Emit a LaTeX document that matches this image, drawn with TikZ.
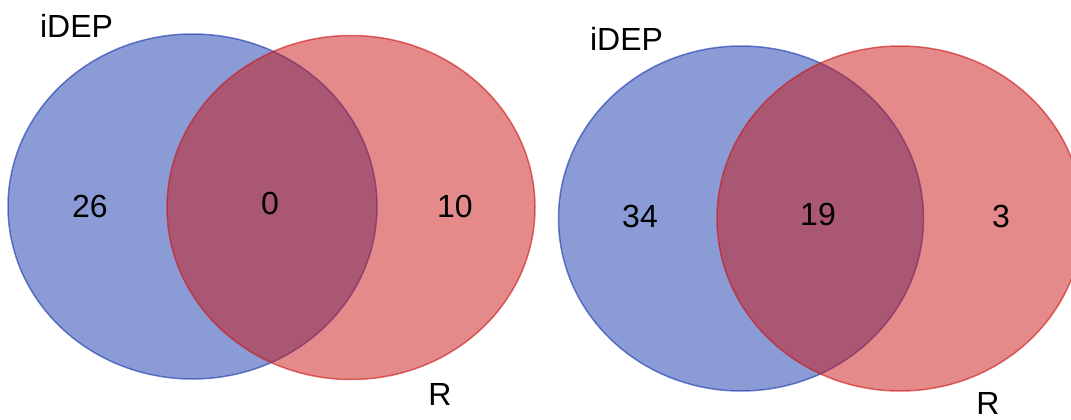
\documentclass[tikz,border=0pt]{standalone}
\usepackage{fontspec}
\setmainfont{Liberation Sans}
\definecolor{setblue}{RGB}{21,55,173}
\definecolor{setred}{RGB}{203,21,21}
\begin{document}
\begin{tikzpicture}[x=1pt,y=-1pt,
  setarea/.style={line width=1.5pt, fill opacity=0.5, draw opacity=0.6},
  bluearea/.style={setarea, draw=setblue, fill=setblue},
  redarea/.style={setarea, draw=setred, fill=setred},
  lbl/.style={inner sep=0pt, font=\fontsize{32}{38}\selectfont, text=black}]
\useasboundingbox (0,0) rectangle (1071,420);
\begin{scope}
\clip (0,0) rectangle (1071,420);
% first diagram
\draw[bluearea] (192.5,206.5) ellipse [x radius=184.5pt, y radius=172.5pt];
\draw[redarea] (351,207.5) ellipse [x radius=184pt, y radius=172pt];
% second diagram
\draw[bluearea] (741,218.5) ellipse [x radius=182.5pt, y radius=172.5pt];
\draw[redarea] (900,218.5) ellipse [x radius=183pt, y radius=172.5pt];
\end{scope}
% labels of the first diagram
\node[lbl] (setA1) at (76.5,25.5) {iDEP};
\node[lbl] (setB1) at (440,394.5) {R};
\node[lbl] (onlyA1) at (90,206) {26};
\node[lbl] (both1) at (270,203.5) {0};
\node[lbl] (onlyB1) at (455,206) {10};
% labels of the second diagram
\node[lbl] (setA2) at (626.5,38.5) {iDEP};
\node[lbl] (setB2) at (988,403.5) {R};
\node[lbl] (onlyA2) at (640,216.5) {34};
\node[lbl] (both2) at (818,214.5) {19};
\node[lbl] (onlyB2) at (1001,216.5) {3};
\end{tikzpicture}
\end{document}
